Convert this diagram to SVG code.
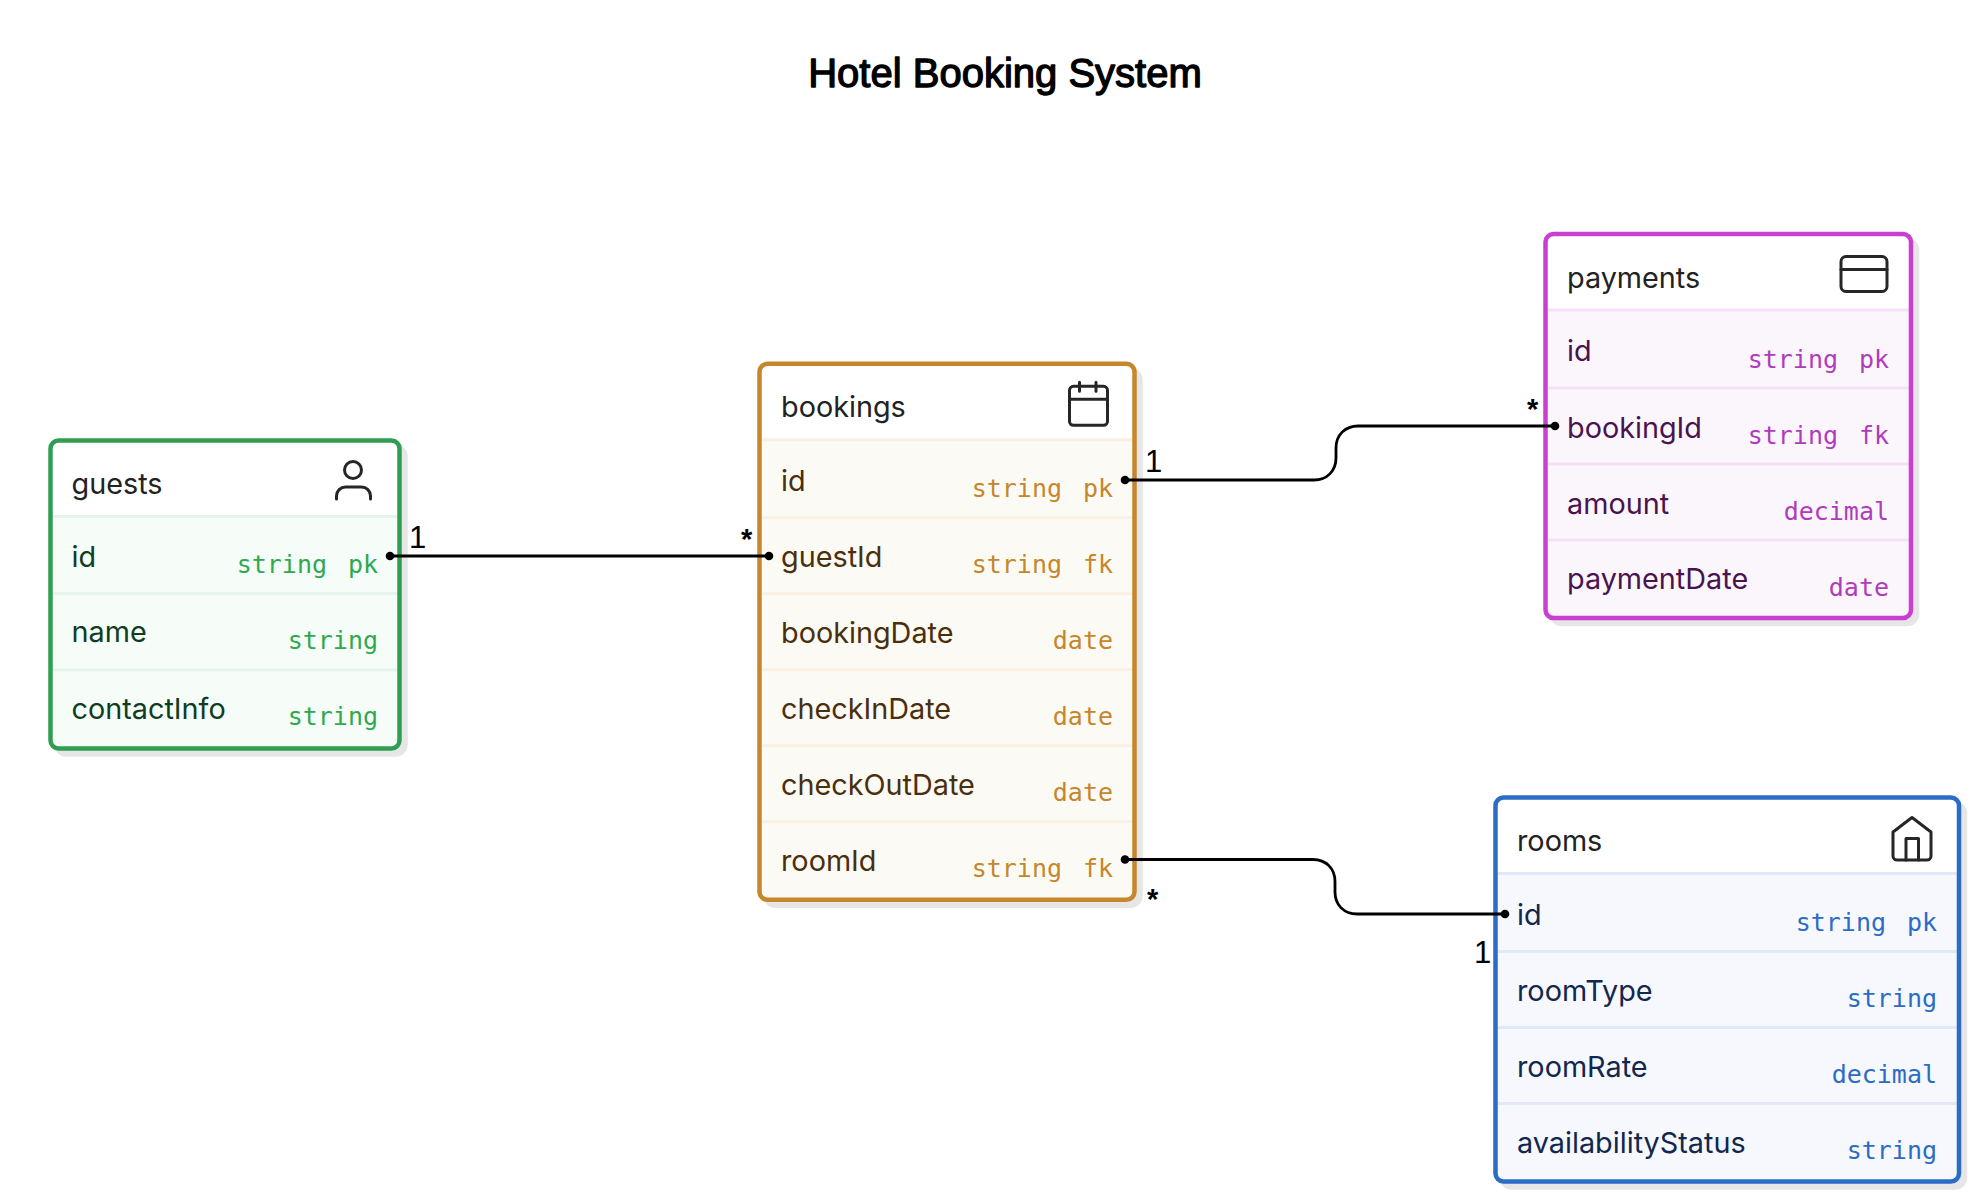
<svg xmlns="http://www.w3.org/2000/svg" width="1979" height="1202" viewBox="0 0 1979 1202">
<style>
text{font-family:"Inter","Liberation Sans",sans-serif}
.bg{fill:#fff}
.title{font-family:"Liberation Sans",Arial,sans-serif;font-size:40px;fill:#000;stroke:#000;stroke-width:1.3;stroke-linejoin:round;text-anchor:middle}
.shadow{fill:#e6e6e6;stroke:#e6e6e6;stroke-width:4.5}
.head{font-size:28.800px;fill:#222}
.name{font-size:28.800px}
.type{font-family:"DejaVu Sans Mono","Liberation Mono",monospace;font-size:25px;text-anchor:end}
.icon{fill:none;stroke:#262626;stroke-width:3;stroke-linecap:round;stroke-linejoin:round}
.box{stroke-width:4.5}
.edge{fill:none;stroke:#000;stroke-width:2.8}
.dot{fill:#000}
.card{font-family:"Liberation Sans",Arial,sans-serif;font-size:31px;fill:#000}
.star{font-size:29px;font-weight:700}
.g .body{fill:#f6fcf8}.g .box{fill:none;stroke:#2f9e52}.g .div{stroke:#e6f5ea}.g .name{fill:#0f3d1f}.g .type{fill:#2fa950}
.b .body{fill:#fcfaf5}.b .box{fill:none;stroke:#c6862b}.b .div{stroke:#f9efe2}.b .name{fill:#4a2f0d}.b .type{fill:#c6862b}
.p .body{fill:#fbf6fc}.p .box{fill:none;stroke:#c93fd0}.p .div{stroke:#f5e0f7}.p .name{fill:#4a124f}.p .type{fill:#b03cbd}
.r .body{fill:#f6f8fd}.r .box{fill:none;stroke:#2b6cc4}.r .div{stroke:#e1e9f8}.r .name{fill:#12274d}.r .type{fill:#2b6cc4}
.div{stroke-width:3}
</style>
<rect class="bg" width="1979" height="1202"/>
<text class="title" x="1005" y="87">Hotel Booking System</text>

<g id="guests" class="g">
<rect class="shadow" x="56.5" y="446.5" width="349" height="308" rx="10"/>
<rect x="50.5" y="440.5" width="349" height="308" rx="8" fill="#fff"/>
<path class="body" d="M50.5 516.5H399.5V740.5a8 8 0 0 1-8 8H58.5a8 8 0 0 1-8-8Z"/>
<path class="div" d="M52 516.500H398M52 593.500H398M52 670H398"/>
<rect class="box" x="50.5" y="440.5" width="349" height="308" rx="8"/>
<text class="head" x="71.500" y="493.500">guests</text>
<circle class="icon" cx="353" cy="470" r="8.5"/>
<path class="icon" d="M336.500 499v-3a9 9 0 0 1 9-9h16a9 9 0 0 1 9 9v3"/>
<text class="name" x="71.500" y="567">id</text><text class="type" x="378" y="573">pk</text><text class="type" x="327" y="573">string</text>
<text class="name" x="71.500" y="642">name</text><text class="type" x="378" y="649">string</text>
<text class="name" x="71.500" y="718.500">contactInfo</text><text class="type" x="378" y="725">string</text>
</g>

<g id="bookings" class="b" transform="translate(0,-0.7)">
<rect class="shadow" x="765.500" y="370.500" width="375" height="536" rx="10"/>
<rect x="759.500" y="364.500" width="375" height="536" rx="8" fill="#fff"/>
<path class="body" d="M759.500 440.500H1134.500V892.500a8 8 0 0 1-8 8H767.500a8 8 0 0 1-8-8Z"/>
<path class="div" d="M761 440.500H1133M761 518.500H1133M761 594.500H1133M761 670.500H1133M761 746.500H1133M761 822.500H1133"/>
<rect class="box" x="759.500" y="364.500" width="375" height="536" rx="8"/>
<text class="head" x="781" y="418">bookings</text>
<rect class="icon" x="1069.500" y="387" width="38" height="39" rx="4"/>
<path class="icon" d="M1069.500 400H1107.500M1079.500 383V392M1096 383V392"/>
<text class="name" x="781" y="491.500">id</text><text class="type" x="1113" y="498">pk</text><text class="type" x="1062" y="498">string</text>
<text class="name" x="781" y="567.500">guestId</text><text class="type" x="1113" y="574">fk</text><text class="type" x="1062" y="574">string</text>
<text class="name" x="781" y="643.500">bookingDate</text><text class="type" x="1113" y="650">date</text>
<text class="name" x="781" y="719.500">checkInDate</text><text class="type" x="1113" y="726">date</text>
<text class="name" x="781" y="795.500">checkOutDate</text><text class="type" x="1113" y="802">date</text>
<text class="name" x="781" y="871.500">roomId</text><text class="type" x="1113" y="878">fk</text><text class="type" x="1062" y="878">string</text>
</g>

<g id="payments" class="p" transform="translate(0,-0.5)">
<rect class="shadow" x="1551.500" y="240.500" width="365.500" height="384" rx="10"/>
<rect x="1545.500" y="234.500" width="365.500" height="384" rx="8" fill="#fff"/>
<path class="body" d="M1545.500 310.500H1911V610.500a8 8 0 0 1-8 8H1553.500a8 8 0 0 1-8-8Z"/>
<path class="div" d="M1547 310.500H1909.500M1547 388.500H1909.500M1547 464.500H1909.500M1547 540.500H1909.500"/>
<rect class="box" x="1545.500" y="234.500" width="365.500" height="384" rx="8"/>
<text class="head" x="1567" y="288.500">payments</text>
<rect class="icon" x="1841" y="257" width="46" height="35" rx="5"/>
<path class="icon" d="M1841 270H1887"/>
<text class="name" x="1567" y="361.500">id</text><text class="type" x="1889" y="368">pk</text><text class="type" x="1838" y="368">string</text>
<text class="name" x="1567" y="438">bookingId</text><text class="type" x="1889" y="444">fk</text><text class="type" x="1838" y="444">string</text>
<text class="name" x="1567" y="514">amount</text><text class="type" x="1889" y="520">decimal</text>
<text class="name" x="1567" y="589.500">paymentDate</text><text class="type" x="1889" y="596">date</text>
</g>

<g id="rooms" class="r" transform="translate(0,-1)">
<rect class="shadow" x="1501.500" y="804.500" width="463.500" height="384" rx="10"/>
<rect x="1495.500" y="798.500" width="463.500" height="384" rx="8" fill="#fff"/>
<path class="body" d="M1495.500 874.500H1959V1174.500a8 8 0 0 1-8 8H1503.500a8 8 0 0 1-8-8Z"/>
<path class="div" d="M1497 874.500H1957.500M1497 952.500H1957.500M1497 1028.500H1957.500M1497 1104.500H1957.500"/>
<rect class="box" x="1495.500" y="798.500" width="463.500" height="384" rx="8"/>
<text class="head" x="1517" y="852">rooms</text>
<path class="icon" d="M1912 818.500L1931 833V857a4 4 0 0 1-4 4H1897a4 4 0 0 1-4-4V833Z"/>
<path class="icon" d="M1906 861V839.500H1918.500V861"/>
<text class="name" x="1517" y="926">id</text><text class="type" x="1937" y="932">pk</text><text class="type" x="1886" y="932">string</text>
<text class="name" x="1517" y="1002">roomType</text><text class="type" x="1937" y="1008">string</text>
<text class="name" x="1517" y="1078">roomRate</text><text class="type" x="1937" y="1084">decimal</text>
<text class="name" x="1517" y="1154">availabilityStatus</text><text class="type" x="1937" y="1160">string</text>
</g>

<g id="connectors">
<path class="edge" d="M390 556H769"/>
<circle class="dot" cx="390" cy="556" r="4.300"/><circle class="dot" cx="769" cy="556" r="4.300"/>
<path class="edge" d="M1125 480H1314C1327 480 1336 471 1336 458V448C1336 435 1345 426 1358 426H1555"/>
<circle class="dot" cx="1125" cy="480" r="4.300"/><circle class="dot" cx="1555" cy="426" r="4.300"/>
<path class="edge" d="M1125 859.500H1313C1326 859.500 1335 868.500 1335 881.500V892C1335 905 1344 914 1357 914H1505"/>
<circle class="dot" cx="1125" cy="859.500" r="4.300"/><circle class="dot" cx="1505" cy="914" r="4.300"/>
<text class="card" x="409" y="548">1</text>
<text class="card star" x="741" y="549">*</text>
<text class="card" x="1145" y="472">1</text>
<text class="card star" x="1527" y="419">*</text>
<text class="card star" x="1147" y="909">*</text>
<text class="card" x="1474" y="963">1</text>
</g>
</svg>
